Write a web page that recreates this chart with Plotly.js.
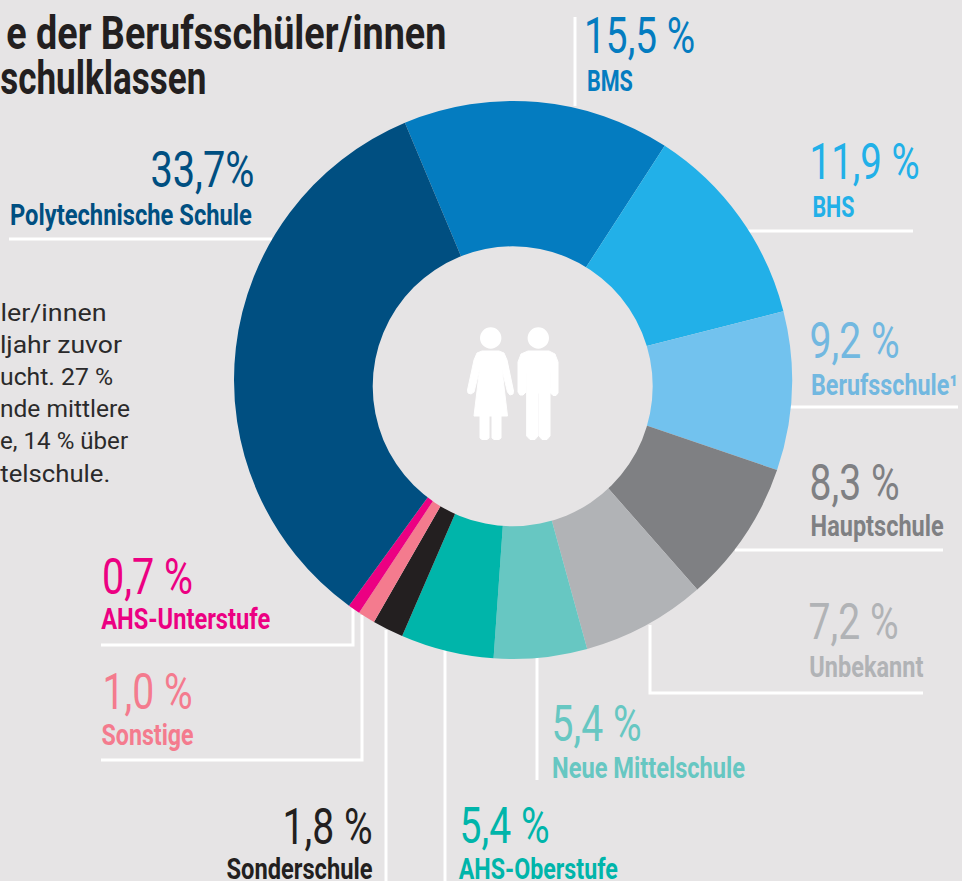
<!DOCTYPE html>
<html><head><meta charset="utf-8">
<script src="https://cdn.plot.ly/plotly-3.0.1.min.js"></script>
<style>html,body{margin:0;padding:0;background:#e6e4e5;overflow:hidden}#c{width:962px;height:881px}</style>
</head><body><div id="c"></div>
<script>
const categories=["BMS","BHS","Berufsschule¹","Hauptschule","Unbekannt","Neue Mittelschule","AHS-Oberstufe","Sonderschule","Sonstige","AHS-Unterstufe","Polytechnische Schule"];
const values=[15.5,11.9,9.2,8.3,7.2,5.4,5.4,1.8,1.0,0.7,33.7];
const colors=["#047cc0","#22b0e8","#72c2ee","#7f8083","#b1b3b6","#67c7c2","#00b5aa","#231f20","#f47b8e","#ec0082","#004f81"];
const pctTexts=["15,5 %","11,9 %","9,2 %","8,3 %","7,2 %","5,4 %","5,4 %","1,8 %","1,0 %","0,7 %","33,7%"];
const labelColors=["#047cc0","#22b0e8","#72b8e0","#7f8083","#b1b3b6","#67c7c2","#00b5aa","#231f20","#f47b8e","#ec0082","#004f81"];
// text spans in the picture: [left, right, centre y]
const pctBoxes=[[584,695,36],[809,919,162],[809,899,341],[809,899,483],[808,898,622],[551,641,724],[459,549,826],[282,372,827],[102,192,692],[102,193,577],[150,254,170]];
const nameBoxes=[[587,633,81],[812,854,207],[811,958,385],[810,943,526],[809,923,667],[552,745,768],[458,617,869],[226,372,869],[101,193,735],[101,270,619],[10,252,215]];
const titleLines=[["e der Berufsschüler/innen",6,446,33],["schulklassen",0,206,78]];
const bodyLines=[["ler/innen",0,106],["ljahr zuvor",0,122],["ucht. 27 %",0,113],["nde mittlere",0,130],["e, 14 % über",0,128],["telschule.",0,110]];
const leaders=[[[575,17],[575,106]],[[745,231],[913,231]],[[788,407],[958,407]],[[735,550],[943,550]],[[650,625],[650,693],[923,693]],[[537,655],[537,780]],[[445,650],[445,881]],[[386,630],[386,881]],[[362,615],[362,760],[101,760]],[[353,608],[353,645],[101,645]],[[9,239],[272,239]]];

const W=962,H=881,cx=513,cy=380,R=279;
const fx=x=>x/W, fy=y=>1-y/H;
const P=pts=>pts.map((p,i)=>(i?"L":"M")+fx(p[0])+","+fy(p[1])).join(" ");
const ann=[],widths=[];
function add(text,x0,x1,y,color,size,weight){
  ann.push({text:text,x:fx((x0+x1)/2),y:fy(y),xref:"paper",yref:"paper",xanchor:"center",yanchor:"middle",showarrow:false,borderpad:0,
    font:{family:"Roboto,sans-serif",size:size,color:color,weight:weight}});
  widths.push(x1-x0);
}
categories.forEach((c,i)=>{
  const p=pctBoxes[i],n=nameBoxes[i];
  add(pctTexts[i],p[0],p[1],p[2],labelColors[i],50,400);
  add(c,n[0],n[1],n[2],labelColors[i],29,700);
});
titleLines.forEach(t=>add(t[0],t[1],t[2],t[3],"#231f20",46,700));
bodyLines.forEach((t,i)=>add(t[0],t[1],t[2],313+i*32.2,"#2b2a2b",23,400));

const shapes=leaders.map(l=>({type:"path",path:P(l),xref:"paper",yref:"paper",line:{color:"#ffffff",width:3},layer:"below"}));
function solid(pts){shapes.push({type:"path",path:P(pts)+" Z",xref:"paper",yref:"paper",fillcolor:"#ffffff",line:{color:"#ffffff",width:1}});}
function disc(x,y,r,col){shapes.push({type:"circle",xref:"paper",yref:"paper",x0:fx(x-r),x1:fx(x+r),y0:fy(y+r),y1:fy(y-r),fillcolor:col,line:{width:0}});}
disc(512.7,386.3,140,"#e6e4e5");
disc(490.7,338,10.7,"#ffffff");disc(538.3,338,10.7,"#ffffff");
// woman
solid([[482,351],[499,351],[504,353],[507,360],[513.5,391],[513,394],[510,395],[507.5,392],[502,370],[507.5,416],[501,416],[501,438],[499,439.5],[494,439.5],[492,438],[492,416],[489,416],[489,438],[487,439.5],[482,439.5],[480,438],[480,416],[474,416],[479.5,370],[474,392],[471,394],[468,393],[467.5,390],[474,360],[477,353]]);
// man
solid([[528,351],[549,351],[555,354],[558,362],[558,393],[556,395.5],[553,395.5],[550.5,393],[550,367],[550,436],[547,439.5],[542,439.5],[539,436],[539,393],[538,393],[538,436],[535,439.5],[530,439.5],[526.7,436],[526.7,367],[526,392],[523,395],[520,395],[518,392],[518,362],[521,354]]);

Plotly.newPlot("c",[{type:"pie",labels:categories,values:values,sort:false,direction:"clockwise",rotation:-22.8,hole:0.4,
  marker:{colors:colors,line:{width:0}},textinfo:"none",hoverinfo:"label+percent",automargin:false,
  domain:{x:[fx(cx-R),fx(cx+R)],y:[fy(cy+R),fy(cy-R)]}}],
 {width:W,height:H,margin:{l:0,r:0,t:0,b:0},paper_bgcolor:"#e6e4e5",plot_bgcolor:"#e6e4e5",showlegend:false,annotations:ann,shapes:shapes},
 {displayModeBar:false,staticPlot:true}).then(()=>{
  // squeeze the text to the condensed widths of the reference typeface
  document.querySelectorAll("#c .annotation-text").forEach((t,i)=>{
    t.setAttribute("textLength",widths[i]);
    t.setAttribute("lengthAdjust","spacingAndGlyphs");
  });
 });
</script></body></html>
